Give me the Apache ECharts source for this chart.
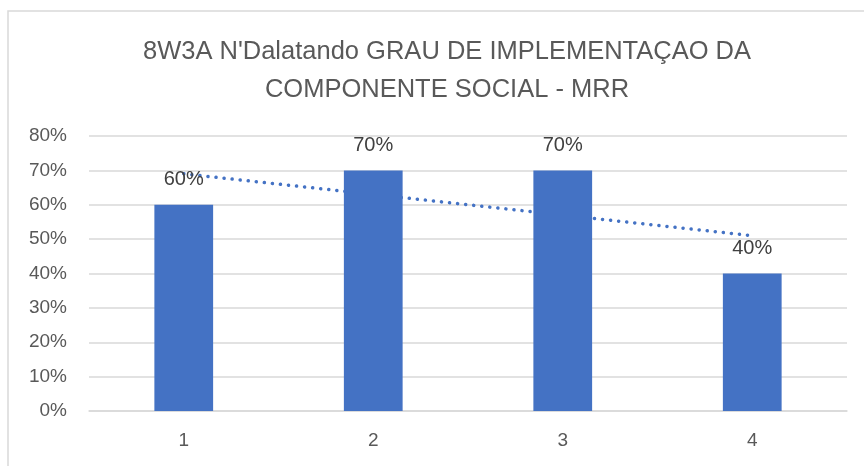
<!DOCTYPE html>
<html>
<head>
<meta charset="utf-8">
<script src="https://cdn.jsdelivr.net/npm/echarts@6/dist/echarts.min.js"></script>
<style>
  html, body { margin: 0; padding: 0; background: #fff; }
  #chart { width: 864px; height: 466px; }
</style>
</head>
<body>
<div id="chart"></div>
<script>
    // values
    const categories = ['1', '2', '3', '4']
    const implementacao = [60, 70, 70, 40]
    const tendencia = [69, 63, 57, 51]   // dotted linear trendline
    const titleLines = ["8W3A N'Dalatando GRAU DE IMPLEMENTAÇAO DA", 'COMPONENTE SOCIAL - MRR']

    const fontFam = '"Liberation Sans Narrow", "Liberation Sans", sans-serif'

    const initChart = () => {
        const myChart = echarts.init(document.getElementById('chart'))

        myChart.setOption({
            animation: false,
            textStyle: { fontFamily: fontFam },
            title: {
                text: titleLines.join('\n'),
                left: 442,
                textAlign: 'center',
                top: 28,
                textStyle: { fontSize: 25.5, fontWeight: 'normal', color: '#595959', lineHeight: 38, fontFamily: fontFam }
            },
            graphic: [{
                type: 'rect',
                shape: { x: 8, y: 11, width: 880, height: 480 },
                style: { fill: 'none', stroke: '#D9D9D9', lineWidth: 1.5 },
                silent: true
            }],
            grid: { left: 89, right: 17, top: 136, bottom: 55 },
            xAxis: {
                type: 'category',
                data: categories,
                axisLine: { lineStyle: { color: '#D9D9D9', width: 1.5 } },
                axisTick: { show: false },
                axisLabel: { color: '#595959', fontSize: 19, margin: 20, fontFamily: fontFam }
            },
            yAxis: {
                type: 'value',
                min: 0,
                max: 80,
                interval: 10,
                axisLine: { show: false },
                axisTick: { show: false },
                splitLine: { lineStyle: { color: '#D9D9D9', width: 1.5 } },
                axisLabel: { color: '#595959', fontSize: 19, margin: 22, formatter: '{value}%', fontFamily: fontFam }
            },
            series: [
                {
                    type: 'bar',
                    data: implementacao,
                    barWidth: '31%',
                    z: 3,
                    itemStyle: { color: '#4472C4' },
                    label: {
                        show: true,
                        position: 'top',
                        distance: 15,
                        formatter: '{c}%',
                        color: '#404040',
                        fontSize: 20,
                        fontFamily: fontFam
                    }
                },
                {
                    type: 'line',
                    data: tendencia,
                    z: 1,
                    symbol: 'none',
                    silent: true,
                    lineStyle: { color: '#4472C4', width: 3.5, type: [0.1, 8], cap: 'round' }
                }
            ]
        })
    }

    window.addEventListener('load', () => {
        initChart()
    })
</script>
</body>
</html>
